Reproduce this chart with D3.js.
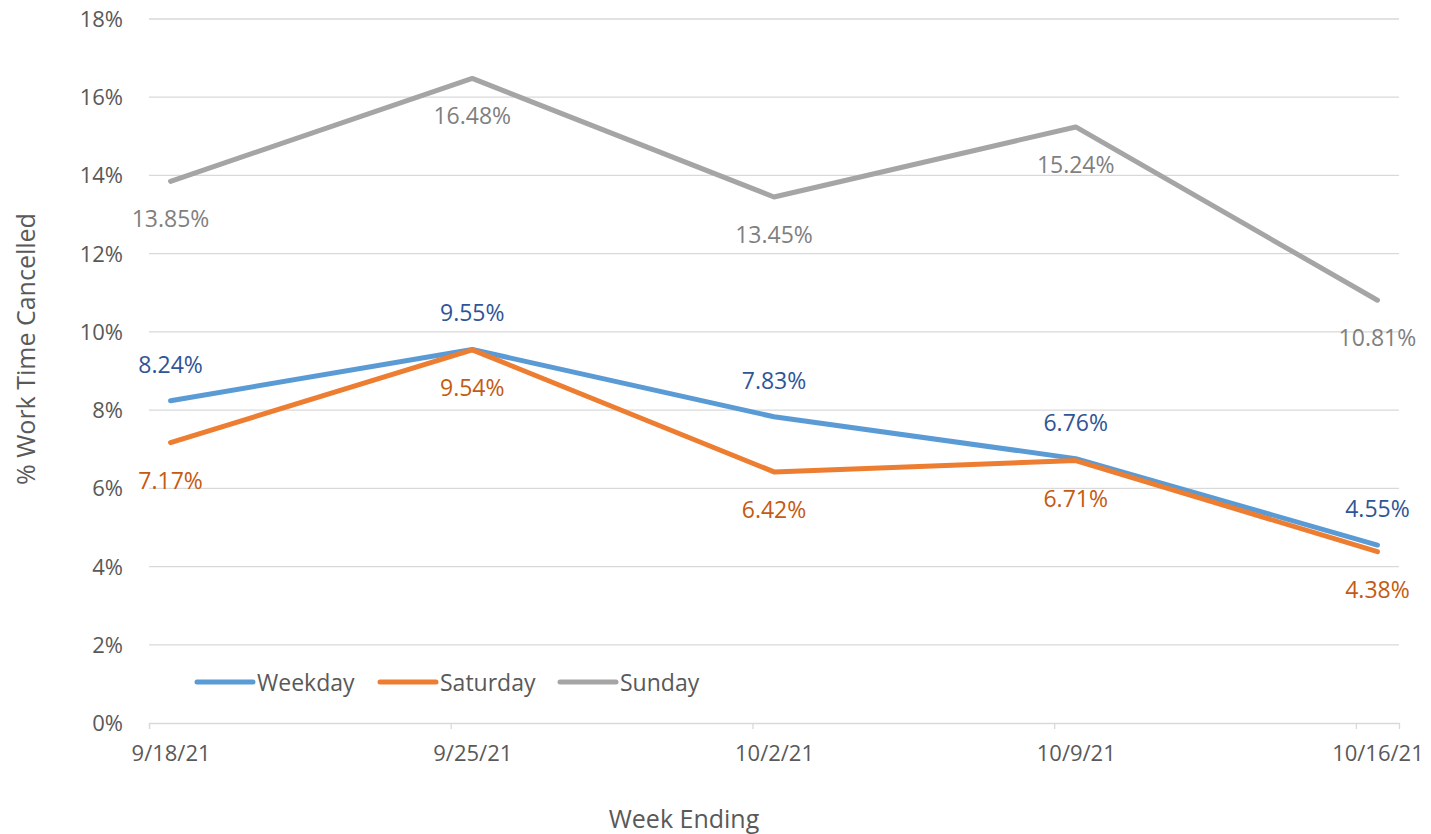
<!DOCTYPE html>
<html>
<head>
<meta charset="utf-8">
<script src="https://cdn.jsdelivr.net/npm/d3@7"></script>
<style>
  body { margin: 0; background: #fff; }
  text { font-family: "Open Sans", "Liberation Sans", sans-serif; }
</style>
</head>
<body>
<div id="chart"></div>
<script>
// week ending dates and series values (percent)
var weeks = ["2021-09-18", "2021-09-25", "2021-10-02", "2021-10-09", "2021-10-16"];
var weekLabels = ["9/18/21", "9/25/21", "10/2/21", "10/9/21", "10/16/21"];
var weekday = [8.24, 9.55, 7.83, 6.76, 4.55];
var saturday = [7.17, 9.54, 6.42, 6.71, 4.38];
var sunday = [13.85, 16.48, 13.45, 15.24, 10.81];
var yTicks = [0, 2, 4, 6, 8, 10, 12, 14, 16, 18];

var series = [
    {name: "Weekday", values: weekday, color: "#5b9bd5", labelColor: "#2f5597", above: true},
    {name: "Saturday", values: saturday, color: "#ed7d31", labelColor: "#c55a11", above: false},
    {name: "Sunday", values: sunday, color: "#a5a5a5", labelColor: "#7f7f7f", above: false}
];

const width = 1431, height = 834;
const svg = d3.select("#chart")
    .append("svg")
    .attr("width", width)
    .attr("height", height);

// date axis: one slot per day, points sit in the middle of their day
var parse = d3.utcParse("%Y-%m-%d");
var dates = weeks.map(parse);
var endDate = d3.utcDay.offset(dates[dates.length - 1], 1);
const x = d3.scaleUtc()
    .domain([dates[0], endDate])
    .range([149, 1399]);
function xMid(d) {
    return x(new Date(d.getTime() + 12 * 3600 * 1000));
}

const y = d3.scaleLinear()
    .domain([0, 18])
    .range([723, 19]);

// gridlines
svg.append("g")
    .selectAll("line")
    .data(yTicks.slice(1))
    .join("line")
    .attr("x1", 149)
    .attr("x2", 1399)
    .attr("y1", function (d) { return y(d); })
    .attr("y2", function (d) { return y(d); })
    .attr("stroke", "#d9d9d9")
    .attr("stroke-width", 1.3);

// y axis labels
svg.append("g")
    .selectAll("text")
    .data(yTicks)
    .join("text")
    .attr("x", 123)
    .attr("y", function (d) { return y(d) + 8; })
    .attr("text-anchor", "end")
    .attr("fill", "#595959")
    .attr("font-size", "22px")
    .text(function (d) { return d + "%"; });

// x axis
const xAxis = d3.axisBottom(x)
    .tickValues(dates)
    .tickSize(6)
    .tickFormat(function (d, i) { return weekLabels[i]; });
const gx = svg.append("g")
    .attr("transform", "translate(0," + y(0) + ")")
    .call(xAxis);
gx.select(".domain").attr("stroke", "#d9d9d9").attr("stroke-width", 1.3);
gx.selectAll(".tick line").attr("stroke", "#d9d9d9").attr("stroke-width", 1.3);
gx.selectAll(".tick text")
    .attr("fill", "#595959")
    .attr("font-size", "22px")
    .attr("font-family", "'Open Sans', 'Liberation Sans', sans-serif")
    .attr("y", 38)
    .attr("dy", 0)
    .attr("x", function (d) { return xMid(d) - x(d); });

// lines
const line = d3.line()
    .x(function (d, i) { return xMid(dates[i]); })
    .y(function (d) { return y(d); });

svg.append("g")
    .selectAll("path")
    .data(series)
    .join("path")
    .attr("d", function (s) { return line(s.values); })
    .attr("fill", "none")
    .attr("stroke", function (s) { return s.color; })
    .attr("stroke-width", 5)
    .attr("stroke-linecap", "round")
    .attr("stroke-linejoin", "round");

// data labels
series.forEach(function (s) {
    svg.append("g")
        .selectAll("text")
        .data(s.values)
        .join("text")
        .attr("x", function (d, i) { return xMid(dates[i]); })
        .attr("y", function (d) { return s.above ? y(d) - 28 : y(d) + 46; })
        .attr("text-anchor", "middle")
        .attr("fill", s.labelColor)
        .attr("font-size", "23px")
        .text(function (d) { return d.toFixed(2) + "%"; });
});

// legend
var legendX = [197, 380, 560];
const legend = svg.append("g")
    .selectAll("g")
    .data(series)
    .join("g")
    .attr("transform", function (s, i) { return "translate(" + legendX[i] + ",682)"; });
legend.append("line")
    .attr("x1", 0)
    .attr("x2", 56)
    .attr("stroke", function (s) { return s.color; })
    .attr("stroke-width", 5)
    .attr("stroke-linecap", "round");
legend.append("text")
    .attr("x", 60)
    .attr("y", 9)
    .attr("fill", "#595959")
    .attr("font-size", "23px")
    .text(function (s) { return s.name; });

// axis titles
svg.append("text")
    .attr("transform", "translate(35,349) rotate(-90)")
    .attr("text-anchor", "middle")
    .attr("fill", "#595959")
    .attr("font-size", "25px")
    .text("% Work Time Cancelled");

svg.append("text")
    .attr("x", 684)
    .attr("y", 828)
    .attr("text-anchor", "middle")
    .attr("fill", "#595959")
    .attr("font-size", "25px")
    .text("Week Ending");
</script>
</body>
</html>
